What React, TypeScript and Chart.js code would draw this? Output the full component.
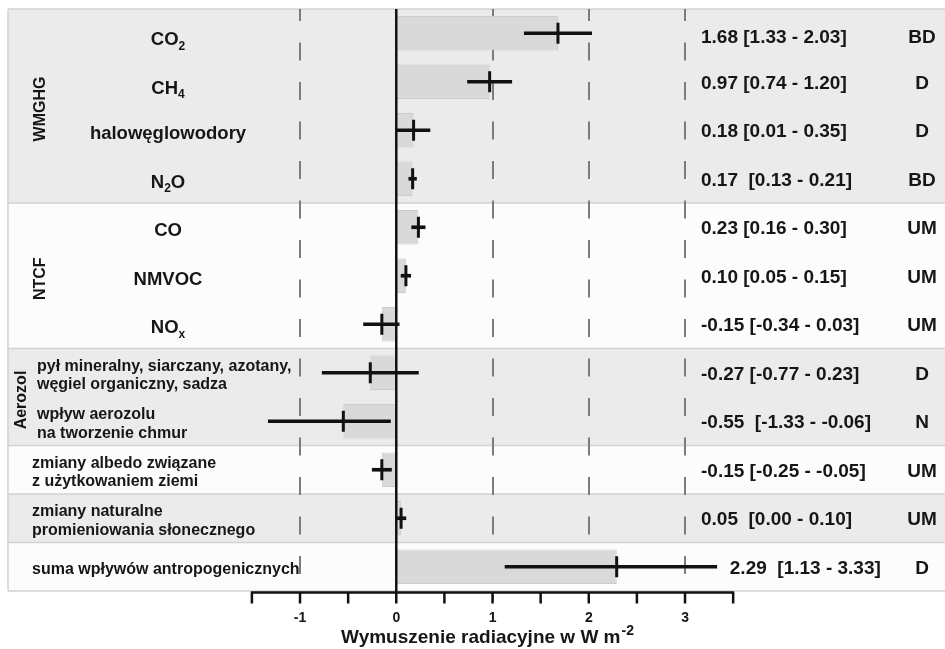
import React, { useEffect, useRef } from 'react';
import { Chart, registerables } from 'chart.js';

Chart.register(...registerables);

const WIDTH = 945;
const HEIGHT = 649;
const FONT = '"Liberation Sans", Arial, Helvetica, sans-serif';

// Row labels; "_" marks a one-character subscript.
const rowLabels: string[][] = [
  ['CO_2'],
  ['CH_4'],
  ['halowęglowodory'],
  ['N_2O'],
  ['CO'],
  ['NMVOC'],
  ['NO_x'],
  ['pył mineralny, siarczany, azotany,', 'węgiel organiczny, sadza'],
  ['wpływ aerozolu', 'na tworzenie chmur'],
  ['zmiany albedo związane', 'z użytkowaniem ziemi'],
  ['zmiany naturalne', 'promieniowania słonecznego'],
  ['suma wpływów antropogenicznych'],
];
const categories = rowLabels.map((l) => l.join(' ').replace(/_/g, ''));

// Radiative forcing (W m-2) with its uncertainty range
const forcing = [1.68, 0.97, 0.18, 0.17, 0.23, 0.1, -0.15, -0.27, -0.55, -0.15, 0.05, 2.29];
const lower = [1.33, 0.74, 0.01, 0.13, 0.16, 0.05, -0.34, -0.77, -1.33, -0.25, 0.0, 1.13];
const upper = [2.03, 1.2, 0.35, 0.21, 0.3, 0.15, 0.03, 0.23, -0.06, -0.05, 0.1, 3.33];
const confidence = ['BD', 'D', 'D', 'BD', 'UM', 'UM', 'UM', 'D', 'N', 'UM', 'UM', 'D'];
const valueGap = [1, 1, 1, 2, 1, 1, 1, 1, 2, 1, 2, 2];

// Row groups with their shading
const groups = [
  { name: 'WMGHG', first: 0, last: 3, shaded: true },
  { name: 'NTCF', first: 4, last: 6, shaded: false },
  { name: 'Aerozol', first: 7, last: 8, shaded: true },
  { name: '', first: 9, last: 9, shaded: false },
  { name: '', first: 10, last: 10, shaded: true },
  { name: '', first: 11, last: 11, shaded: false },
];

const xMin = -4.034;
const xMax = 5.701;
const axisFrom = -1.5;
const axisTo = 3.5;
const axisStep = 0.5;
const tickLabels = [-1, 0, 1, 2, 3];
const dashedAt = [-1, 1, 2, 3];
const axisTitle = 'Wymuszenie radiacyjne w W m';
const axisTitleSup = '-2';

type Part = { t: string; sub: boolean };

function parseRich(s: string): Part[] {
  const out: Part[] = [];
  let buf = '';
  for (let i = 0; i < s.length; i++) {
    if (s[i] === '_' && i + 1 < s.length) {
      if (buf) out.push({ t: buf, sub: false });
      buf = '';
      out.push({ t: s[i + 1], sub: true });
      i++;
    } else {
      buf += s[i];
    }
  }
  if (buf) out.push({ t: buf, sub: false });
  return out;
}

function drawRich(
  ctx: CanvasRenderingContext2D,
  s: string,
  x: number,
  y: number,
  size: number,
  align: 'left' | 'center'
) {
  const parts = parseRich(s);
  const subSize = Math.round(size * 0.64);
  const widths = parts.map((p) => {
    ctx.font = `bold ${p.sub ? subSize : size}px ${FONT}`;
    return ctx.measureText(p.t).width;
  });
  const total = widths.reduce((a, b) => a + b, 0);
  let cx = align === 'center' ? x - total / 2 : x;
  ctx.textAlign = 'left';
  ctx.textBaseline = 'middle';
  parts.forEach((p, k) => {
    ctx.font = `bold ${p.sub ? subSize : size}px ${FONT}`;
    ctx.fillText(p.t, cx, p.sub ? y + size * 0.34 : y);
    cx += widths[k];
  });
}

const panelPlugin = {
  id: 'panel',
  beforeDatasetsDraw(chart: any) {
    const { ctx, chartArea: a, scales } = chart;
    const x = scales.x;
    const y = scales.y;
    const band = y.getPixelForValue(1) - y.getPixelForValue(0);
    ctx.save();
    groups.forEach((g) => {
      const top = y.getPixelForValue(g.first) - band / 2;
      const bottom = y.getPixelForValue(g.last) + band / 2;
      ctx.fillStyle = g.shaded ? '#ebebeb' : '#fcfcfc';
      ctx.fillRect(a.left, top, a.right - a.left, bottom - top);
    });
    ctx.strokeStyle = '#d2d2d2';
    ctx.lineWidth = 1.5;
    groups.forEach((g) => {
      const bottom = y.getPixelForValue(g.last) + band / 2;
      ctx.beginPath();
      ctx.moveTo(a.left, bottom);
      ctx.lineTo(a.right, bottom);
      ctx.stroke();
    });
    ctx.beginPath();
    ctx.moveTo(a.left, a.top);
    ctx.lineTo(a.right, a.top);
    ctx.moveTo(a.left, a.top);
    ctx.lineTo(a.left, a.bottom);
    ctx.stroke();

    // dashed reference lines
    ctx.strokeStyle = '#7c7c7c';
    ctx.lineWidth = 2;
    ctx.setLineDash([18, 21.5]);
    ctx.lineDashOffset = 6;
    dashedAt.forEach((v) => {
      const px = Math.round(x.getPixelForValue(v));
      ctx.beginPath();
      ctx.moveTo(px, a.top);
      ctx.lineTo(px, a.bottom + 10);
      ctx.stroke();
    });
    ctx.restore();
  },
  afterDatasetsDraw(chart: any) {
    const { ctx, chartArea: a, scales } = chart;
    const x = scales.x;
    const y = scales.y;
    ctx.save();

    // zero line
    const x0 = x.getPixelForValue(0);
    ctx.strokeStyle = '#111';
    ctx.lineWidth = 2.5;
    ctx.beginPath();
    ctx.moveTo(x0, a.top);
    ctx.lineTo(x0, a.bottom + 1);
    ctx.stroke();

    ctx.fillStyle = '#161616';

    // group labels (rotated)
    groups.forEach((g) => {
      if (!g.name) return;
      const cy = (y.getPixelForValue(g.first) + y.getPixelForValue(g.last)) / 2 + 3;
      const cx = g.last - g.first >= 2 ? 41 : 22;
      ctx.save();
      ctx.translate(cx, cy);
      ctx.rotate(-Math.PI / 2);
      ctx.font = `bold 16px ${FONT}`;
      ctx.textAlign = 'center';
      ctx.textBaseline = 'middle';
      ctx.fillText(g.name, 0, 0);
      ctx.restore();
    });

    // row labels
    rowLabels.forEach((lines, i) => {
      const cy = y.getPixelForValue(i);
      const inGroup = groups.find((g) => i >= g.first && i <= g.last);
      if (lines.length === 1 && i <= 6) {
        drawRich(ctx, lines[0], 168, cy + (i < 2 ? 7 : 4), 18.5, 'center');
      } else {
        const lh = 18.5;
        const startY = cy + 3 - ((lines.length - 1) * lh) / 2;
        const lx = inGroup && inGroup.name ? 37 : 32;
        lines.forEach((ln, k) => drawRich(ctx, ln, lx, startY + k * lh, 16, 'left'));
      }
    });

    // value texts and confidence levels
    ctx.font = `bold 19px ${FONT}`;
    ctx.textBaseline = 'middle';
    forcing.forEach((v, i) => {
      const cy = y.getPixelForValue(i) + (i === 0 ? 5 : 2);
      const txt = `${v.toFixed(2)}${' '.repeat(valueGap[i])}[${lower[i].toFixed(2)} - ${upper[i].toFixed(2)}]`;
      const tx = Math.max(701, x.getPixelForValue(upper[i]) + 13);
      ctx.textAlign = 'left';
      ctx.fillText(txt, tx, cy);
      ctx.textAlign = 'center';
      ctx.fillText(confidence[i], 922, cy);
    });

    // x axis
    const ay = a.bottom + 1.5;
    const xa = x.getPixelForValue(axisFrom);
    const xb = x.getPixelForValue(axisTo);
    ctx.strokeStyle = '#111';
    ctx.lineWidth = 2.5;
    ctx.beginPath();
    ctx.moveTo(xa - 1, ay);
    ctx.lineTo(xb + 1, ay);
    ctx.stroke();
    for (let v = axisFrom; v <= axisTo + 1e-9; v += axisStep) {
      const px = x.getPixelForValue(v);
      ctx.beginPath();
      ctx.moveTo(px, ay);
      ctx.lineTo(px, ay + 11);
      ctx.stroke();
    }
    ctx.font = `bold 14px ${FONT}`;
    ctx.textAlign = 'center';
    ctx.textBaseline = 'middle';
    tickLabels.forEach((v) => {
      ctx.fillText(String(v), x.getPixelForValue(v), ay + 26);
    });

    // axis title with superscript
    ctx.font = `bold 19px ${FONT}`;
    const wMain = ctx.measureText(axisTitle).width;
    ctx.font = `bold 14px ${FONT}`;
    const wSup = ctx.measureText(axisTitleSup).width;
    const tx0 = 487 - (wMain + wSup) / 2;
    ctx.textAlign = 'left';
    ctx.textBaseline = 'alphabetic';
    ctx.font = `bold 19px ${FONT}`;
    ctx.fillText(axisTitle, tx0, 643);
    ctx.font = `bold 14px ${FONT}`;
    ctx.fillText(axisTitleSup, tx0 + wMain + 1, 635);

    ctx.restore();
  },
};

export default function App() {
  const ref = useRef<HTMLCanvasElement | null>(null);

  useEffect(() => {
    if (!ref.current) return;
    const chart = new Chart(ref.current, {
      type: 'bar',
      data: {
        labels: categories,
        datasets: [
          {
            type: 'line',
            data: forcing,
            showLine: false,
            pointStyle: 'line',
            rotation: 90,
            pointRadius: 10.5,
            pointBorderWidth: 3,
            borderColor: '#111',
            backgroundColor: '#111',
            order: 1,
          } as any,
          {
            type: 'bar',
            data: lower.map((lo, i) => [lo, upper[i]]),
            backgroundColor: '#111',
            barThickness: 3,
            grouped: false,
            order: 2,
          } as any,
          {
            type: 'bar',
            data: forcing,
            backgroundColor: '#d9d9d9',
            borderColor: '#cccccc',
            borderWidth: 1,
            borderSkipped: false,
            barPercentage: 0.71,
            categoryPercentage: 1,
            grouped: false,
            order: 3,
          } as any,
        ],
      },
      options: {
        indexAxis: 'y',
        responsive: false,
        maintainAspectRatio: false,
        animation: false,
        layout: { autoPadding: false, padding: { left: 8, right: 0, top: 9, bottom: 58 } },
        scales: {
          x: { type: 'linear', min: xMin, max: xMax, display: false },
          y: { type: 'category', display: false },
        },
        plugins: {
          legend: { display: false },
          tooltip: { enabled: false },
        },
      },
      plugins: [panelPlugin],
    });
    return () => chart.destroy();
  }, []);

  return (
    <div style={{ position: 'absolute', left: 0, top: 0, width: WIDTH, height: HEIGHT, background: '#fff' }}>
      <canvas ref={ref} width={WIDTH} height={HEIGHT} style={{ display: 'block' }} />
    </div>
  );
}
